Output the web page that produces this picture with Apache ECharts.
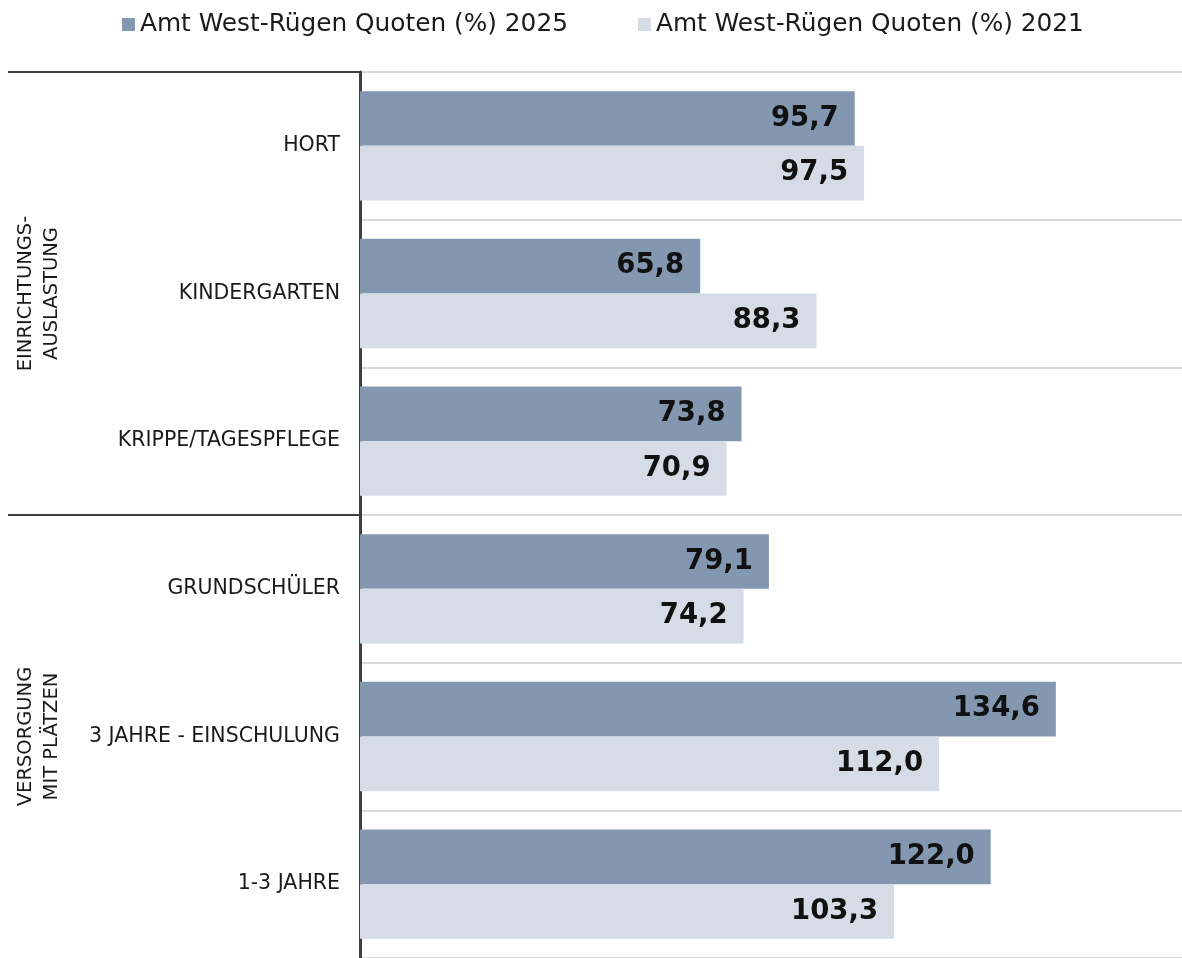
<!DOCTYPE html>
<html>
<head>
<meta charset="utf-8">
<script src="https://cdn.jsdelivr.net/npm/echarts@6/dist/echarts.min.js"></script>
<style>
  html, body { margin: 0; padding: 0; background: #fff; }
  #chart { width: 1182px; height: 958px; }
</style>
</head>
<body>
<div id="chart"></div>
<script>
// categories, top to bottom
const categories = ['HORT', 'KINDERGARTEN', 'KRIPPE/TAGESPFLEGE', 'GRUNDSCHÜLER', '3 JAHRE - EINSCHULUNG', '1-3 JAHRE'];
const quoten2025 = [95.7, 65.8, 73.8, 79.1, 134.6, 122.0];
const quoten2021 = [97.5, 88.3, 70.9, 74.2, 112.0, 103.3];
const seriesNames = ['Amt West-Rügen Quoten (%) 2025', 'Amt West-Rügen Quoten (%) 2021'];
// groups on the left: [label, first index, last index]
const groups = [
  ['EINRICHTUNGS-\nAUSLASTUNG', 0, 2],
  ['VERSORGUNG\nMIT PLÄTZEN', 3, 5]
];

const fmt = v => v.toFixed(1).replace('.', ',');
const font = 'DejaVu Sans';

let chart = echarts.init(document.getElementById('chart'));

let label = {
  show: true,
  position: 'insideRight',
  distance: 16,
  color: '#111',
  fontFamily: font,
  fontWeight: 'bold',
  fontSize: 27.5,
  formatter: p => fmt(p.value)
};

let option = {
  animation: false,
  legend: {
    top: 7,
    left: 117,
    itemWidth: 13,
    itemHeight: 13,
    itemGap: 70,
    icon: 'rect',
    textStyle: { fontFamily: font, fontSize: 24.8, color: '#1a1a1a' },
    data: seriesNames
  },
  grid: { left: 360, right: 0, top: 72, bottom: -2 },
  xAxis: {
    type: 'value',
    min: 0,
    max: 159,
    show: false
  },
  yAxis: {
    type: 'category',
    inverse: true,
    data: categories,
    axisTick: { show: false },
    axisLine: { lineStyle: { color: '#404040', width: 3 } },
    axisLabel: { margin: 20, color: '#1a1a1a', fontFamily: font, fontSize: 20.5 },
    splitLine: { show: true, lineStyle: { color: '#d9d9d9', width: 2 } }
  },
  series: [
    {
      name: seriesNames[0],
      type: 'bar',
      data: quoten2025,
      itemStyle: { color: '#8497b0' },
      barGap: '0%',
      barCategoryGap: '26%',
      label: label
    },
    {
      name: seriesNames[1],
      type: 'bar',
      data: quoten2021,
      itemStyle: { color: '#d6dce5' },
      label: label
    }
  ]
};
chart.setOption(option);

// group separators and labels on the left, placed from the axis scale
function catY(i) { return chart.convertToPixel({ yAxisIndex: 0 }, i); }
let band = catY(1) - catY(0);
let axisX = chart.convertToPixel({ xAxisIndex: 0 }, 0);
let elements = [];
groups.forEach(g => {
  let y0 = catY(g[1]) - band / 2;
  let y1 = catY(g[2]) + band / 2;
  elements.push({
    type: 'line',
    shape: { x1: 8, y1: y0, x2: axisX, y2: y0 },
    style: { stroke: '#404040', lineWidth: 2 }
  });
  elements.push({
    type: 'text',
    x: 39,
    y: (y0 + y1) / 2,
    rotation: Math.PI / 2,
    style: {
      text: g[0],
      fontFamily: font,
      fontSize: 19.5,
      lineHeight: 26,
      fill: '#1a1a1a',
      align: 'center',
      verticalAlign: 'middle'
    }
  });
});
chart.setOption({ graphic: elements });
</script>
</body>
</html>
